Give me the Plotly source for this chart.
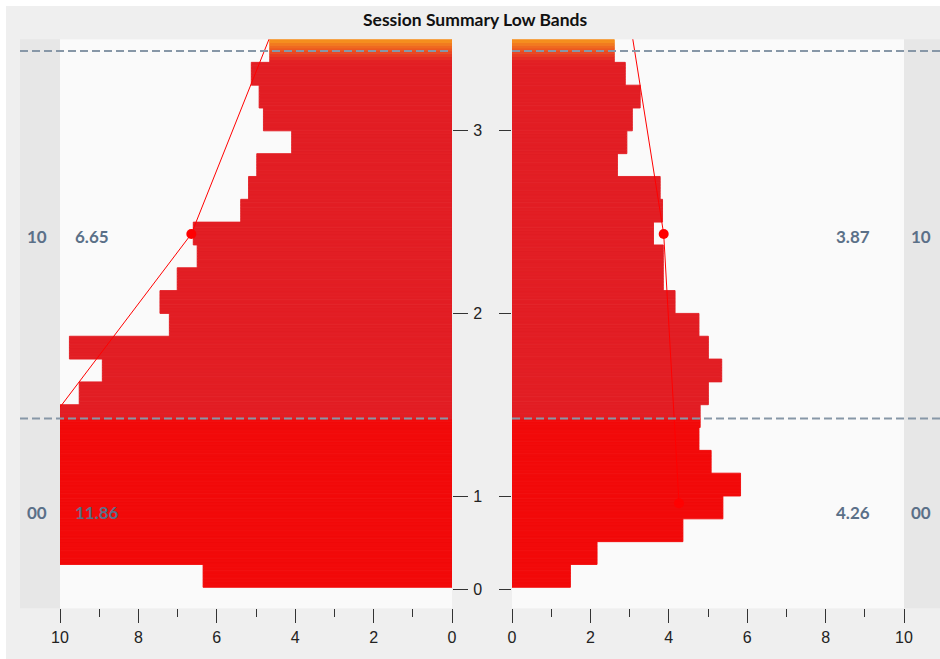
import plotly.graph_objects as go

# ---------------- data (rows from bottom = 0 to top = 23) ----------------
left_vals = [6.35, 10, 10, 10, 10, 10, 10, 10, 9.51, 8.92, 9.76, 7.21,
             7.45, 7.01, 6.50, 6.60, 5.39, 5.19, 4.98, 4.09, 4.81, 4.92, 5.12, 4.65]
right_vals = [1.49, 2.17, 4.36, 5.38, 5.83, 5.08, 4.77, 4.80, 5.01, 5.35, 5.01, 4.77,
              4.16, 3.86, 3.86, 3.61, 3.84, 3.78, 2.69, 2.93, 3.07, 3.27, 2.89, 2.61]

# session levels: name, row position of the level point, averages
level_names = ["00", "10"]
level_rows = [3.68, 15.48]
label_rows = [3.27, 15.37]
left_avg = [11.86, 6.65]
right_avg = [4.26, 3.87]
# next (off-chart) level the trend line heads to
next_level_row = 27.28
left_next = 3.91
right_next = 2.78

band_levels = [7.4, 23.5]          # dashed separators
y_tick_vals = [-0.1, 4, 12, 20]
y_tick_text = ["0", "1", "2", "3"]
x_tick_vals = [0, 2, 4, 6, 8, 10]

title = "Session Summary Low Bands"

# ---------------- geometry / styles ----------------
W, H = 940, 659
def px(x):
    return x / W
def py(y):
    return 1 - y / H

BRIGHT = (242, 10, 10)
DARK = (226, 30, 36)
ORANGE = (247, 152, 30)

def color_at(y):
    if y < band_levels[0]:
        c = BRIGHT
    elif y < 23:
        c = DARK
    else:
        t = min(max(y - 23, 0), 1) ** 1.3
        c = tuple(round(DARK[j] + (ORANGE[j] - DARK[j]) * t) for j in range(3))
    return "rgb(%d,%d,%d)" % c

SUB = 8
ys, lx, rx, cols = [], [], [], []
for i in range(len(left_vals)):
    for k in range(SUB):
        y = i + (k + 0.5) / SUB
        ys.append(y)
        lx.append(left_vals[i])
        rx.append(right_vals[i])
        cols.append(color_at(y))

fig = go.Figure()
fig.add_trace(go.Bar(orientation="h", y=ys, x=lx, width=1 / SUB,
                     marker=dict(color=cols, line=dict(width=0.9, color=cols)),
                     xaxis="x", yaxis="y", hoverinfo="skip", showlegend=False))
fig.add_trace(go.Bar(orientation="h", y=ys, x=rx, width=1 / SUB,
                     marker=dict(color=cols, line=dict(width=0.9, color=cols)),
                     xaxis="x2", yaxis="y2", hoverinfo="skip", showlegend=False))

# trend lines through level averages
fig.add_trace(go.Scatter(x=left_avg + [left_next], y=level_rows + [next_level_row],
                         mode="lines+markers", line=dict(color="#ff0000", width=1),
                         marker=dict(color="#ff0000", size=10),
                         xaxis="x", yaxis="y", hoverinfo="skip", showlegend=False))
fig.add_trace(go.Scatter(x=right_avg + [right_next], y=level_rows + [next_level_row],
                         mode="lines+markers", line=dict(color="#ff0000", width=1),
                         marker=dict(color="#ff0000", size=10),
                         xaxis="x2", yaxis="y2", hoverinfo="skip", showlegend=False))

plot_top, plot_bot = 39.3, 608.3
shapes = []
# white page edge strip
shapes.append(dict(type="rect", xref="paper", yref="paper", x0=0, x1=px(6), y0=0, y1=1,
                   fillcolor="#ffffff", line=dict(width=0), layer="below"))
shapes.append(dict(type="rect", xref="paper", yref="paper", x0=0, x1=1, y0=py(6), y1=1,
                   fillcolor="#ffffff", line=dict(width=0), layer="below"))
# side bands
for x0, x1 in [(20, 60), (904, 940)]:
    shapes.append(dict(type="rect", xref="paper", yref="paper", x0=px(x0), x1=px(x1),
                       y0=py(plot_bot), y1=py(plot_top), fillcolor="#e7e7e7",
                       line=dict(width=0), layer="below"))
# dashed separators
for lv in band_levels:
    shapes.append(dict(type="line", xref="paper", yref="y", x0=px(20), x1=px(452), y0=lv, y1=lv,
                       line=dict(color="#8797a7", width=2, dash="8px,4px"), layer="above"))
    shapes.append(dict(type="line", xref="paper", yref="y2", x0=px(512), x1=1, y0=lv, y1=lv,
                       line=dict(color="#8797a7", width=2, dash="8px,4px"), layer="above"))

annotations = []
annotations.append(dict(text=title, xref="paper", yref="paper", x=px(476), y=py(20),
                        showarrow=False, xanchor="center", yanchor="middle",
                        font=dict(family="Lato", size=17.5, color="#111111", weight="bold")))
lab_font = dict(family="Lato", size=17, color="#5b7088", weight="bold")
for name, row, la, ra in zip(level_names, label_rows, left_avg, right_avg):
    annotations.append(dict(text=name, xref="paper", yref="y", x=px(37), y=row, showarrow=False,
                            xanchor="center", yanchor="middle", font=lab_font))
    annotations.append(dict(text="%.2f" % la, xref="paper", yref="y", x=px(73), y=row, showarrow=False,
                            xanchor="left", yanchor="middle", font=lab_font))
    annotations.append(dict(text="%.2f" % ra, xref="paper", yref="y", x=px(872), y=row, showarrow=False,
                            xanchor="right", yanchor="middle", font=lab_font))
    annotations.append(dict(text=name, xref="paper", yref="y", x=px(921), y=row, showarrow=False,
                            xanchor="center", yanchor="middle", font=lab_font))

tick_font = dict(family="Liberation Sans", size=16, color="#222222")
xcommon = dict(tickmode="array", tickvals=x_tick_vals, ticks="outside", ticklen=14, tickwidth=1.3,
               tickcolor="#333333", showgrid=False, zeroline=False, showline=False,
               tickfont=tick_font, fixedrange=True,
               minor=dict(tickmode="linear", tick0=0, dtick=1, ticks="outside", ticklen=8,
                          tickwidth=1.3, tickcolor="#333333", showgrid=False))
y_range = [-0.92, 24.01]
fig.update_layout(
    width=W, height=H, margin=dict(l=0, r=0, t=0, b=0, autoexpand=False),
    paper_bgcolor="#efefef", plot_bgcolor="#fafafa",
    barmode="overlay", showlegend=False,
    xaxis=dict(domain=[px(60), px(452)], range=[10, 0], anchor="y", **xcommon),
    xaxis2=dict(domain=[px(512), px(904)], range=[0, 10], anchor="y2", **xcommon),
    yaxis=dict(domain=[py(plot_bot), py(plot_top)], range=y_range, anchor="x", side="right",
               tickmode="array", tickvals=y_tick_vals, ticktext=y_tick_text,
               ticks="outside", ticklen=15, tickwidth=1.3, tickcolor="#333333",
               tickfont=tick_font, ticklabelstandoff=2,
               showgrid=False, zeroline=False, showline=False, fixedrange=True),
    yaxis2=dict(domain=[py(plot_bot), py(plot_top)], range=y_range, anchor="x2", side="left",
                matches="y", tickmode="array", tickvals=y_tick_vals, showticklabels=False,
                ticks="outside", ticklen=12, tickwidth=1.3, tickcolor="#333333",
                showgrid=False, zeroline=False, showline=False, fixedrange=True),
    shapes=shapes, annotations=annotations,
)
fig.write_html("out.html", config={"displayModeBar": False},
               post_script="document.body.style.margin='0';document.body.style.overflow='hidden';")
